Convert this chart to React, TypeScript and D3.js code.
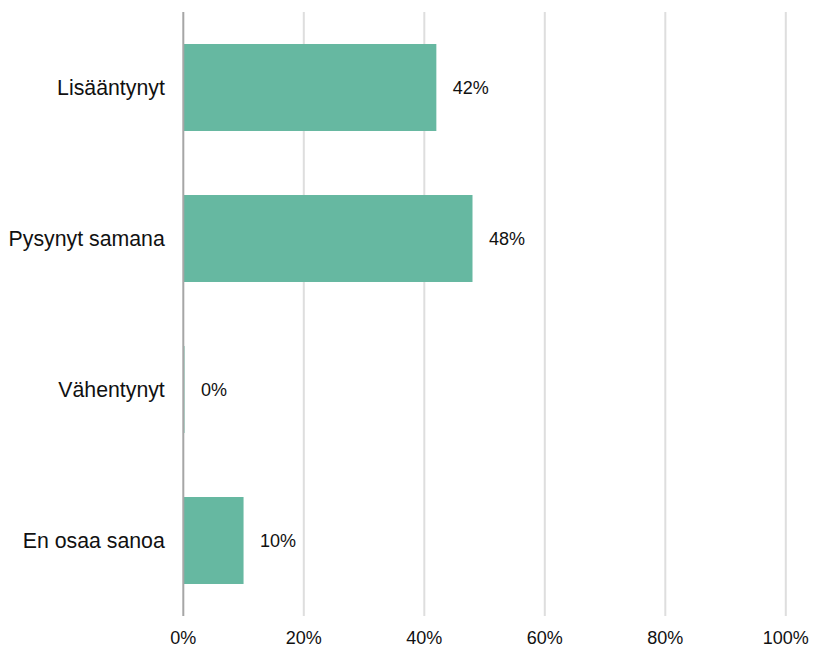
import React from "react";
import * as d3 from "d3";

const categories = ["Lisääntynyt", "Pysynyt samana", "Vähentynyt", "En osaa sanoa"];
const values = [42, 48, 0.2, 10];
const valueLabels = ["42%", "48%", "0%", "10%"];
const ticks = [0, 20, 40, 60, 80, 100];

const W = 813;
const H = 647;
const left = 183.3;
const right = 785.8;
const top = 12;
const bottom = 616;

export default function App() {
  const x = d3.scaleLinear().domain([0, 100]).range([left, right]);
  const y = d3
    .scaleBand<string>()
    .domain(categories)
    .range([top, bottom])
    .paddingInner(0.424)
    .paddingOuter(0.212);
  const font = "'Liberation Sans', Arial, sans-serif";
  return (
    <svg
      width={W}
      height={H}
      style={{ position: "absolute", left: 0, top: 0, background: "#fff" }}
      fontFamily={font}
    >
      {ticks.slice(1).map((t) => (
        <line key={"g" + t} x1={x(t)} x2={x(t)} y1={top} y2={bottom} stroke="#dedede" strokeWidth={2} />
      ))}
      {categories.map((c, i) => (
        <g key={c}>
          <rect
            x={x(0)}
            y={y(c)!}
            width={Math.max(0, x(values[i]) - x(0))}
            height={y.bandwidth()}
            fill="#66b8a1"
          />
          <text
            x={x(values[i]) + 16.5}
            y={y(c)! + y.bandwidth() / 2}
            dominantBaseline="central"
            fontSize={18}
            fill="#111"
          >
            {valueLabels[i]}
          </text>
          <text
            x={x(0) - 18.5}
            y={y(c)! + y.bandwidth() / 2}
            dominantBaseline="central"
            textAnchor="end"
            fontSize={21.3}
            fill="#111"
          >
            {c}
          </text>
        </g>
      ))}
      <line x1={x(0)} x2={x(0)} y1={top} y2={bottom} stroke="#a6a6a6" strokeWidth={2} />
      {ticks.map((t) => (
        <text key={"t" + t} x={x(t)} y={638} dominantBaseline="central" textAnchor="middle" fontSize={18} fill="#111">
          {t + "%"}
        </text>
      ))}
    </svg>
  );
}
